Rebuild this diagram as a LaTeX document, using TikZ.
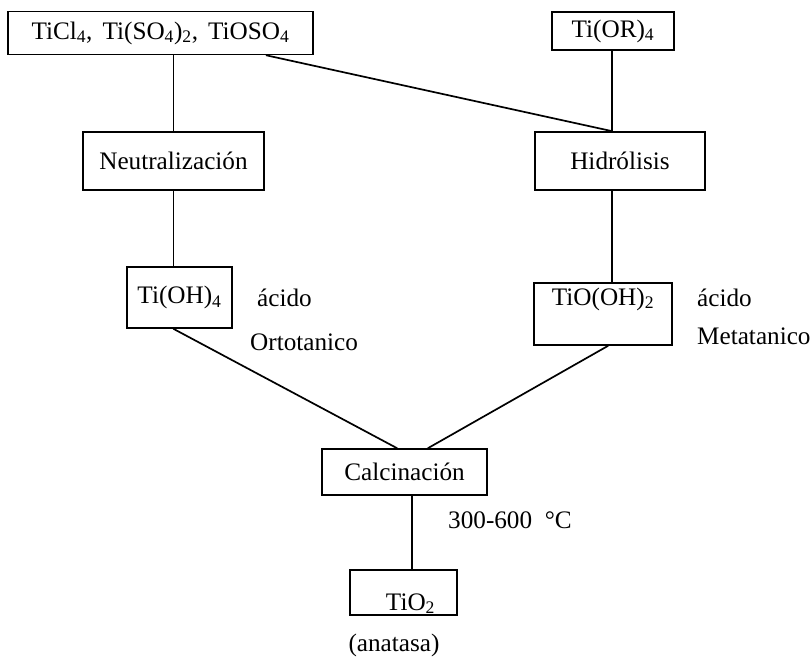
\documentclass[tikz,border=0pt]{standalone}
\usepackage{fontspec}
\setmainfont{Liberation Serif}
\usetikzlibrary{calc}

\begin{document}
\begin{tikzpicture}
		[x=1pt,y=-1pt,line cap=round,
		%Styles
		link/.style={line width=1.7pt},
		process box/.style={draw,line width=1.7pt,inner sep=0pt,font=\fontsize{25.2}{30}\selectfont},
		side text/.style={anchor=west,inner sep=0pt,font=\fontsize{25.2}{30}\selectfont}
		]
		
		\useasboundingbox (0,0) rectangle (811,657);
		
		%The boxes
		\node[process box,minimum width=305,minimum height=43] (src) at (160.5,33) {TiCl\textsubscript{4},\hspace{0.4em}Ti(SO\textsubscript{4})\textsubscript{2},\hspace{0.4em}TiOSO\textsubscript{4}};
		\node[process box,minimum width=122,minimum height=38] (tior) at (613,31) {Ti(OR)\textsubscript{4}};
		\node[process box,minimum width=181,minimum height=58] (neut) at (173.5,161) {Neutralización};
		\node[process box,minimum width=170,minimum height=58] (hidro) at (620,161) {Hidrólisis};
		\node[process box,minimum width=105,minimum height=61] (tioh4) at (179.5,297.5) {Ti(OH)\textsubscript{4}};
		\node[process box,minimum width=138,text height=22pt,text depth=40pt] (tiooh2) at (603,314) {TiO(OH)\textsubscript{2}};
		\node[process box,minimum width=165,minimum height=46] (calc) at (404.5,472) {Calcinación};
		\node[process box,minimum width=107,text height=40pt,text depth=5pt] (tio2) at (403.5,592.5) {\hspace{14pt}TiO\textsubscript{2}};
		
		%Side texts
		\node[side text] (acidL) at (257,298) {ácido};
		\node[side text] (orto) at (250,342) {Ortotanico};
		\node[side text] (acidR) at (697,298) {ácido};
		\node[side text] (meta) at (697,336) {Metatanico};
		\node[side text] (temp) at (448,520) {300-600\hspace{0.5em}°C};
		\node[side text,anchor=center] (anat) at (394,645) {(anatasa)};
		
		%Connections
		\coordinate (hin) at ($(hidro.north)+(-8,0)$);
		\coordinate (cout) at ($(calc.south)+(7.5,0)$);
		\draw[link] (src.south -| neut.north) -- (neut.north);
		\draw[link] ($(src.south)+(106,0)$) -- (hin);
		\draw[link] (tior.south -| hin) -- (hin);
		\draw[link] (neut.south) -- (tioh4.north -| neut.south);
		\draw[link] (hidro.south -| hin) -- (tiooh2.north -| hin);
		\draw[link] (tioh4.south -| neut.south) -- ($(calc.north)+(-7.5,0)$);
		\draw[link] ($(tiooh2.south)+(5,0)$) -- ($(calc.north)+(23.5,0)$);
		\draw[link] (cout) -- (tio2.north -| cout);
	\end{tikzpicture}
\end{document}
